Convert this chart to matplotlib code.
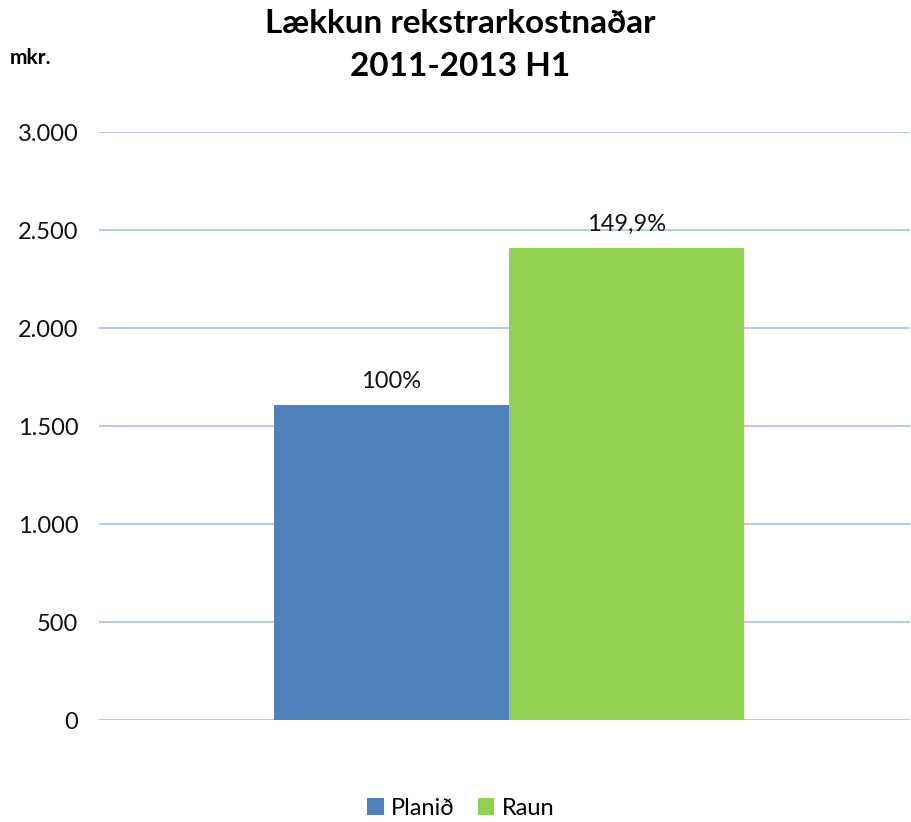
import matplotlib.pyplot as plt
from matplotlib.ticker import FuncFormatter

plt.rcParams['font.family'] = ['Lato', 'DejaVu Sans']

series = ["Planið", "Raun"]
values = [1606, 2408]
labels = ["100%", "149,9%"]
colors = ["#4F81BD", "#92D050"]
yticks = [0, 500, 1000, 1500, 2000, 2500, 3000]

fig = plt.figure(figsize=(9.12, 8.22), dpi=100)
ax = fig.add_axes([0.1086, 0.124, 0.889, 0.7153])

w = 0.29
offsets = [-w / 2, w / 2]
for name, v, lab, c, off in zip(series, values, labels, colors, offsets):
    ax.bar(off, v, width=w, color=c, label=name, zorder=3)
    ax.text(off, v + 70, lab, ha="center", va="bottom", fontsize=17, color="#111111")

ax.set_xlim(-0.5055, 0.4945)
ax.set_ylim(0, 3000)
ax.set_yticks(yticks)
ax.yaxis.set_major_formatter(FuncFormatter(lambda v, p: f"{int(v):,}".replace(",", ".")))
ax.set_xticks([])
ax.tick_params(axis="y", length=0, pad=15, labelsize=17, labelcolor="#111111")
ax.grid(axis="y", color="#B9CBE9", linewidth=1.5, zorder=0)
ax.axhline(0, color="#DCE6F2", linewidth=2, zorder=1)
for s in ax.spines.values():
    s.set_visible(False)

fig.text(0.505, 0.972, "Lækkun rekstrarkostnaðar", ha="center", va="center",
         fontsize=24, fontweight="bold")
fig.text(0.505, 0.919, "2011-2013 H1", ha="center", va="center",
         fontsize=24, fontweight="bold")
fig.text(0.011, 0.93, "mkr.", ha="left", va="center", fontsize=15, fontweight="bold")

fig.legend(loc="center", bbox_to_anchor=(0.505, 0.017), ncol=2, frameon=False,
           fontsize=17, handlelength=0.7, handleheight=0.7, handletextpad=0.3,
           columnspacing=1.0)

fig.savefig("out.png", dpi=100)
